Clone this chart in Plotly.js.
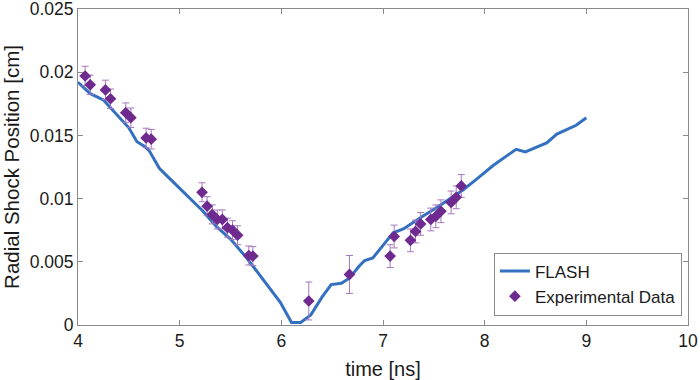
<!DOCTYPE html>
<html>
<head>
<meta charset="utf-8">
<script src="https://cdn.plot.ly/plotly-3.0.1.min.js"></script>
<style>html,body{margin:0;padding:0;background:#fff;}#chart{width:700px;height:380px;}</style>
</head>
<body>
<div id="chart"></div>
<script>
// FLASH simulation curve
const flashTime = [4.0, 4.12, 4.25, 4.4, 4.5, 4.58, 4.66, 4.7, 4.8, 4.9, 5.07, 5.23, 5.36, 5.5, 5.66, 5.82, 5.99, 6.1, 6.19, 6.29, 6.4, 6.49, 6.59, 6.67, 6.77, 6.82, 6.9, 7.0, 7.1, 7.2, 7.31, 7.41, 7.53, 7.66, 7.79, 7.93, 8.08, 8.22, 8.31, 8.4, 8.51, 8.61, 8.71, 8.82, 8.9, 9.0];
const flashPos = [0.0192, 0.0183, 0.0178, 0.0165, 0.0156, 0.0145, 0.0141, 0.0138, 0.0124, 0.0116, 0.0103, 0.0090, 0.0078, 0.0068, 0.0053, 0.0036, 0.0018, 0.0002, 0.0002, 0.0008, 0.0022, 0.0032, 0.0033, 0.0037, 0.0047, 0.0051, 0.0053, 0.0063, 0.0073, 0.0076, 0.0082, 0.0087, 0.0093, 0.0100, 0.0107, 0.0116, 0.0126, 0.0134, 0.0139, 0.0137, 0.0141, 0.0144, 0.0151, 0.0155, 0.0158, 0.0164];

// Experimental data
const expTime = [4.07, 4.12, 4.27, 4.32, 4.47, 4.52, 4.67, 4.72, 5.22, 5.27, 5.32, 5.37, 5.42, 5.47, 5.52, 5.57, 5.68, 5.72, 6.27, 6.67, 7.07, 7.11, 7.27, 7.32, 7.37, 7.47, 7.52, 7.57, 7.67, 7.72, 7.77];
const expPos = [0.0197, 0.0190, 0.0186, 0.0179, 0.0168, 0.0164, 0.0148, 0.0147, 0.0105, 0.0094, 0.00875, 0.00835, 0.00835, 0.0077, 0.0075, 0.0071, 0.0055, 0.00545, 0.0019, 0.0040, 0.00545, 0.0070, 0.0067, 0.0074, 0.0080, 0.00835, 0.0086, 0.0090, 0.0097, 0.0101, 0.0110];
const expErr = [0.00077, 0.00077, 0.00077, 0.00077, 0.00077, 0.00077, 0.00077, 0.00077, 0.00075, 0.00075, 0.00075, 0.00075, 0.00075, 0.00075, 0.00075, 0.00075, 0.00075, 0.00075, 0.0015, 0.0015, 0.0009, 0.0009, 0.0009, 0.0009, 0.0009, 0.0009, 0.0009, 0.0009, 0.0009, 0.0009, 0.0009];

const xTicks = [4, 5, 6, 7, 8, 9, 10];
const yTicks = [0, 0.005, 0.01, 0.015, 0.02, 0.025];
const yTickText = ['0', '0.005', '0.01', '0.015', '0.02', '0.025'];

const font = 'Liberation Sans, Arial, Helvetica, sans-serif';

const traces = [
  {
    x: flashTime, y: flashPos, type: 'scatter', mode: 'lines', name: 'FLASH',
    line: {color: '#3370c0', width: 3}
  },
  {
    x: expTime, y: expPos, type: 'scatter', mode: 'markers', name: 'Experimental Data',
    marker: {symbol: 'diamond', size: 9, color: '#6f2a8f'},
    error_y: {type: 'data', array: expErr, visible: true, color: '#a678c0', thickness: 1, width: 3.5}
  }
];

const axisCommon = {
  showline: true, linecolor: '#8a8a8a', linewidth: 1, mirror: 'ticks',
  ticks: 'inside', ticklen: 5, tickcolor: '#8a8a8a', tickwidth: 1,
  showgrid: false, zeroline: false,
  ticklabeloverflow: 'allow',
  tickfont: {family: font, size: 17.5, color: '#1a1a1a'}
};

const layout = {
  width: 700, height: 380,
  margin: {l: 78, r: 12, t: 9, b: 55},
  paper_bgcolor: '#fff', plot_bgcolor: '#fff',
  showlegend: true,
  legend: {
    x: 0.99, y: 0.03, xanchor: 'right', yanchor: 'bottom',
    bgcolor: '#fff', bordercolor: '#8a8a8a', borderwidth: 1,
    font: {family: font, size: 17, color: '#1a1a1a'},
    tracegroupgap: 0
  },
  xaxis: Object.assign({}, axisCommon, {
    range: [4, 10], tickvals: xTicks,
    title: {text: 'time [ns]', font: {family: font, size: 20, color: '#1a1a1a'}, standoff: 12}
  }),
  yaxis: Object.assign({}, axisCommon, {
    range: [0, 0.025], tickvals: yTicks, ticktext: yTickText,
    title: {text: 'Radial Shock Position [cm]', font: {family: font, size: 20.5, color: '#1a1a1a'}, standoff: 6}
  })
};

Plotly.newPlot('chart', traces, layout, {displayModeBar: false, staticPlot: true});
</script>
</body>
</html>
